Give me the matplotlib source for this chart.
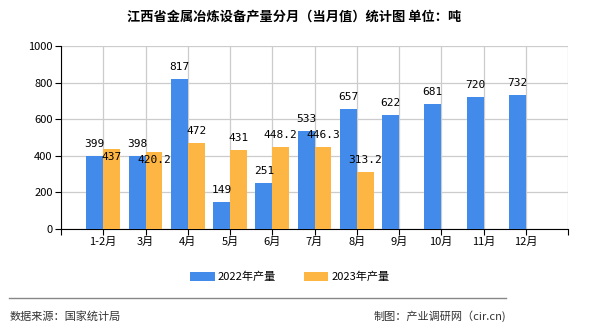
import matplotlib.pyplot as plt
import numpy as np

plt.rcParams['font.family'] = ['Noto Sans CJK SC', 'DejaVu Sans']

months = ["1-2月", "3月", "4月", "5月", "6月", "7月", "8月", "9月", "10月", "11月", "12月"]
prod_2022 = [399, 398, 817, 149, 251, 533, 657, 622, 681, 720, 732]
prod_2023 = [437, 420.2, 472, 431, 448.2, 446.3, 313.2]
labels_2022 = ["399", "398", "817", "149", "251", "533", "657", "622", "681", "720", "732"]
labels_2023 = ["437", "420.2", "472", "431", "448.2", "446.3", "313.2"]

blue = "#428BEB"
orange = "#FDB543"

fig = plt.figure(figsize=(5.9, 3.3), dpi=100)
# plot area in pixels: x 61..568, y 46..229
ax = fig.add_axes([61 / 590, 1 - 229 / 330, (568 - 61) / 590, (229 - 46) / 330])

x = np.arange(len(months))
w = 0.4
b1 = ax.bar(x - w / 2, prod_2022, w, color=blue, label="2022年产量", zorder=3)
b2 = ax.bar(x[:len(prod_2023)] + w / 2, prod_2023, w, color=orange, label="2023年产量", zorder=3)

ax.set_xlim(-1, 11)
ax.set_ylim(0, 1000)
ax.set_yticks(np.arange(0, 1001, 200))
ax.set_xticks(list(x) + [-1, 11])
ax.set_xticklabels(months + ["", ""], fontsize=8)
ax.tick_params(axis='y', labelsize=8, length=4, pad=2)
ax.tick_params(axis='x', length=4, pad=2)

# vertical grid at category centres and edges
for xv in list(x) + [-1, 11]:
    ax.axvline(xv, color="#cccccc", lw=0.9, zorder=1)
ax.yaxis.grid(True, color="#cccccc", lw=0.9, zorder=1)
ax.set_axisbelow(True)

for s in ["top", "right"]:
    ax.spines[s].set_visible(False)
ax.spines["left"].set_color("black")
ax.spines["bottom"].set_color("black")

mono = ['DejaVu Sans Mono']
for xi, v, t in zip(x, prod_2022, labels_2022):
    ax.annotate(t, (xi - w / 2, v), xytext=(0, 12), textcoords='offset pixels',
                ha='center', va='center', fontsize=8, family=mono, zorder=5)
offs = [-8, -8, 12, 12, 12, 12, 12]
for xi, v, t, o in zip(x, prod_2023, labels_2023, offs):
    ax.annotate(t, (xi + w / 2, v), xytext=(0, o), textcoords='offset pixels',
                ha='center', va='center', fontsize=8, family=mono, zorder=5)

fig.text(294 / 590, 1 - 16 / 330, "江西省金属冶炼设备产量分月（当月值）统计图 单位：吨",
         ha='center', va='center', fontsize=9.5, fontweight='bold')

fig.legend(handles=[b1, b2], loc='center', bbox_to_anchor=(290 / 590, 1 - 277 / 330),
           ncol=2, frameon=False, fontsize=8, handlelength=2.2, handleheight=0.8,
           columnspacing=2.5, handletextpad=0.3)

fig.add_artist(plt.Line2D([9 / 590, 506 / 590], [1 - 298 / 330, 1 - 298 / 330],
                          color="#888888", lw=1.0))
fig.text(10 / 590, 1 - 316 / 330, "数据来源：国家统计局", ha='left', va='center',
         fontsize=8, color="#333333")
fig.text(506 / 590, 1 - 316 / 330, "制图：产业调研网（cir.cn)", ha='right', va='center',
         fontsize=8, color="#333333")

fig.savefig("out.png", dpi=100)
